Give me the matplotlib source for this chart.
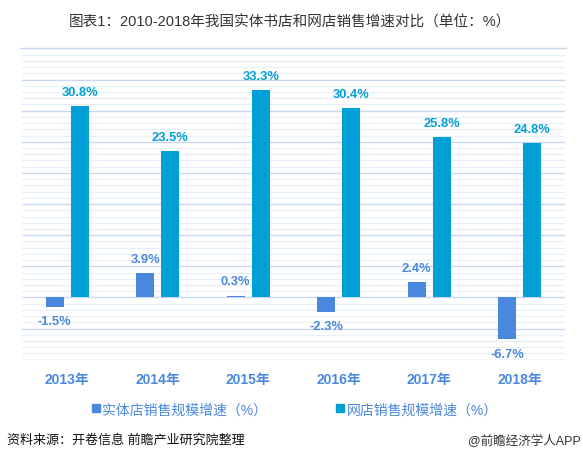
import numpy as np
import matplotlib.pyplot as plt
from matplotlib.ticker import MultipleLocator
from matplotlib.lines import Line2D

years = ["2013年", "2014年", "2015年", "2016年", "2017年", "2018年"]
store_growth = [-1.5, 3.9, 0.3, -2.3, 2.4, -6.7]
online_growth = [30.8, 23.5, 33.3, 30.4, 25.8, 24.8]
series_names = ["实体店销售规模增速（%）", "网店销售规模增速（%）"]

c_store = '#4a88e0'
c_online = '#009fd8'

plt.rcParams['font.family'] = ['Liberation Sans', 'Noto Sans CJK SC', 'DejaVu Sans']

fig = plt.figure(figsize=(5.83, 4.6), dpi=100)
ax = fig.add_axes([0.0377, 0.2159, 0.9314, 0.6645])

x = np.arange(len(years))
w = 0.195
off = 0.138
ax.bar(x - off, store_growth, w, color=c_store, label=series_names[0], zorder=3)
ax.bar(x + off, online_growth, w, color=c_online, label=series_names[1], zorder=3)

# value labels: above positive bars, below negative ones
for xi, v in zip(x, store_growth):
    va = 'bottom' if v >= 0 else 'top'
    dy = 1.3 if v >= 0 else -1.4
    ax.text(xi - off, v + dy, f"{v:.1f}%", ha='center', va=va, color=c_store,
            fontsize=9.3, fontweight='bold', zorder=4)
for xi, v in zip(x, online_growth):
    ax.text(xi + off, v + 1.3, f"{v:.1f}%", ha='center', va='bottom', color=c_online,
            fontsize=9.3, fontweight='bold', zorder=4)

ax.set_xlim(-0.5, 5.5)
ax.set_ylim(-10, 39.1)
ax.yaxis.set_major_locator(MultipleLocator(5))
ax.yaxis.set_minor_locator(MultipleLocator(1))
ax.grid(which='minor', axis='y', color='#e8eef8', linewidth=0.8, zorder=0)
ax.grid(which='major', axis='y', color='#c9d8f0', linewidth=1.0, zorder=1)
ax.set_axisbelow(True)
for s in ax.spines.values():
    s.set_visible(False)
ax.tick_params(axis='y', which='both', left=False, labelleft=False)
ax.tick_params(axis='x', length=0, pad=9)
ax.set_xticks(x)
ax.set_xticklabels(years, fontsize=10, fontweight='bold', color=c_store)

handles = [Line2D([], [], marker='s', linestyle='none', markersize=5.5, color=c) for c in (c_store, c_online)]
fig.legend(handles, series_names, loc='center', bbox_to_anchor=(0.506, 0.108), ncol=2,
           frameon=False, fontsize=10, handlelength=0.5, handletextpad=0.2,
           columnspacing=5.0, labelcolor=c_store)

fig.text(0.497, 0.952, "图表1：2010-2018年我国实体书店和网店销售增速对比（单位：%）",
         ha='center', va='center', fontsize=10.5, color='#333333')
fig.add_artist(Line2D([0.035, 0.97], [0.893, 0.893], transform=fig.transFigure,
                      color='#c9d8ec', linewidth=1.0))

fig.text(0.012, 0.043, "资料来源：开卷信息 前瞻产业研究院整理", ha='left', va='center',
         fontsize=9.4, style='italic', color='#111111')
fig.text(0.997, 0.043, "@前瞻经济学人APP", ha='right', va='center',
         fontsize=9, color='#333333')

fig.savefig("out.png", dpi=100)
